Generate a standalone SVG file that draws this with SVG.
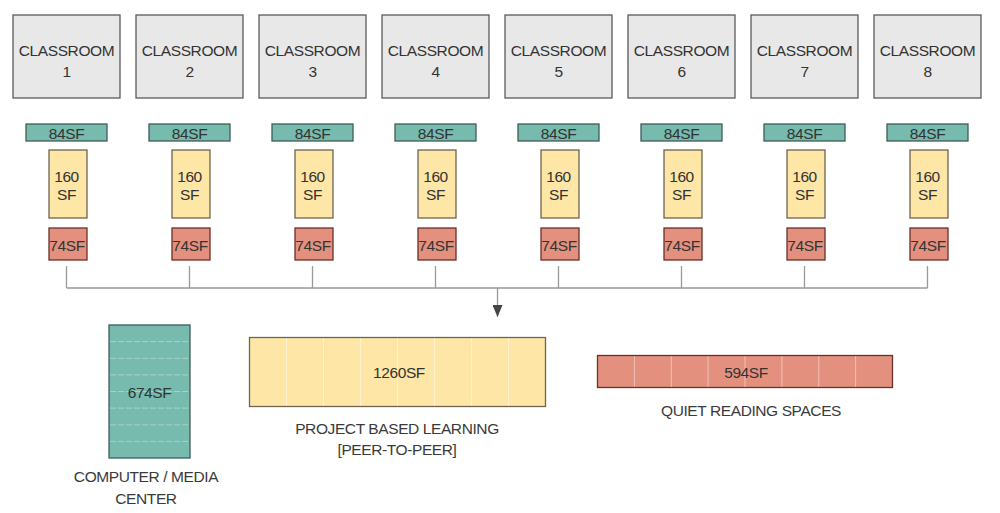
<svg xmlns="http://www.w3.org/2000/svg" width="1000" height="513" viewBox="0 0 1000 513">
<defs>
<style>
text{font-family:"Liberation Sans",Arial,sans-serif;font-size:15.5px;letter-spacing:-0.4px;fill:#333;text-anchor:middle}
.cls{fill:#e8e8e8;stroke:#5a5a5a;stroke-width:1.3}
.teal{fill:#76bbae;stroke:#3f5c57;stroke-width:1.3}
.yel{fill:#fde6a6;stroke:#6f6450;stroke-width:1.3}
.red{fill:#e3917e;stroke:#6b2e28;stroke-width:1.3}
.conn{fill:none;stroke:#999;stroke-width:1.3}
.div{stroke:#ffffff;stroke-opacity:0.45;stroke-width:1}
.divt{stroke:#ffffff;stroke-opacity:0.35;stroke-width:1;stroke-dasharray:6 2}
.lbl{fill:#3a3a3a}
</style>
<marker id="arr" viewBox="0 0 12 10" refX="12" refY="5" markerWidth="12" markerHeight="10" markerUnits="userSpaceOnUse" orient="auto"><path d="M0,0 L12,5 L0,10 z" fill="#444"/></marker>
<g id="unit">
<rect class="cls" x="13" y="15" width="107" height="83"/>
<rect class="teal" x="26" y="124" width="81" height="17"/>
<rect class="yel" x="49" y="150" width="38" height="68"/>
<rect class="red" x="49" y="228" width="38" height="32"/>
<text x="66.5" y="182">160</text>
<text x="66.5" y="200">SF</text>
<text x="66.5" y="139">84SF</text>
<text x="67" y="251">74SF</text>
</g>
</defs>
<g id="classroom-1"><use href="#unit"/><text x="66.5" y="56">CLASSROOM</text><text x="66.5" y="77">1</text></g>
<g id="classroom-2" transform="translate(123,0)"><use href="#unit"/><text x="66.5" y="56">CLASSROOM</text><text x="66.5" y="77">2</text></g>
<g id="classroom-3" transform="translate(246,0)"><use href="#unit"/><text x="66.5" y="56">CLASSROOM</text><text x="66.5" y="77">3</text></g>
<g id="classroom-4" transform="translate(369,0)"><use href="#unit"/><text x="66.5" y="56">CLASSROOM</text><text x="66.5" y="77">4</text></g>
<g id="classroom-5" transform="translate(492,0)"><use href="#unit"/><text x="66.5" y="56">CLASSROOM</text><text x="66.5" y="77">5</text></g>
<g id="classroom-6" transform="translate(615,0)"><use href="#unit"/><text x="66.5" y="56">CLASSROOM</text><text x="66.5" y="77">6</text></g>
<g id="classroom-7" transform="translate(738,0)"><use href="#unit"/><text x="66.5" y="56">CLASSROOM</text><text x="66.5" y="77">7</text></g>
<g id="classroom-8" transform="translate(861,0)"><use href="#unit"/><text x="66.5" y="56">CLASSROOM</text><text x="66.5" y="77">8</text></g>
<g id="connectors">
<path class="conn" d="M66.5,266V288M189.5,266V288M312.5,266V288M435.5,266V288M558.5,266V288M681.5,266V288M804.5,266V288M927.5,266V288M66.5,288H927.5"/>
<path class="conn" d="M497.5,288V317" stroke="#555" marker-end="url(#arr)"/>
</g>
<g id="computer-media-center">
<rect class="teal" x="109" y="325" width="81" height="133"/>
<path class="divt" d="M110,341.6H189M110,358.3H189M110,374.9H189M110,391.5H189M110,408.1H189M110,424.8H189M110,441.4H189"/>
<text x="149.5" y="398">674SF</text>
<text class="lbl" x="146" y="482">COMPUTER / MEDIA</text>
<text class="lbl" x="146" y="504">CENTER</text>
</g>
<g id="project-based-learning">
<rect class="yel" x="249.5" y="337.5" width="296" height="69"/>
<path class="div" stroke="#e8dcc0" d="M286.5,338V406M323.5,338V406M360.5,338V406M397.5,338V406M434.5,338V406M471.5,338V406M508.5,338V406"/>
<text x="399" y="378">1260SF</text>
<text class="lbl" x="397" y="434">PROJECT BASED LEARNING</text>
<text class="lbl" x="397" y="455">[PEER-TO-PEER]</text>
</g>
<g id="quiet-reading-spaces">
<rect class="red" x="597.5" y="355.5" width="295" height="32"/>
<path class="div" d="M634.4,356V387M671.3,356V387M708.1,356V387M745,356V387M781.9,356V387M818.8,356V387M855.6,356V387"/>
<text x="746" y="378">594SF</text>
<text class="lbl" x="751" y="416">QUIET READING SPACES</text>
</g>
</svg>
